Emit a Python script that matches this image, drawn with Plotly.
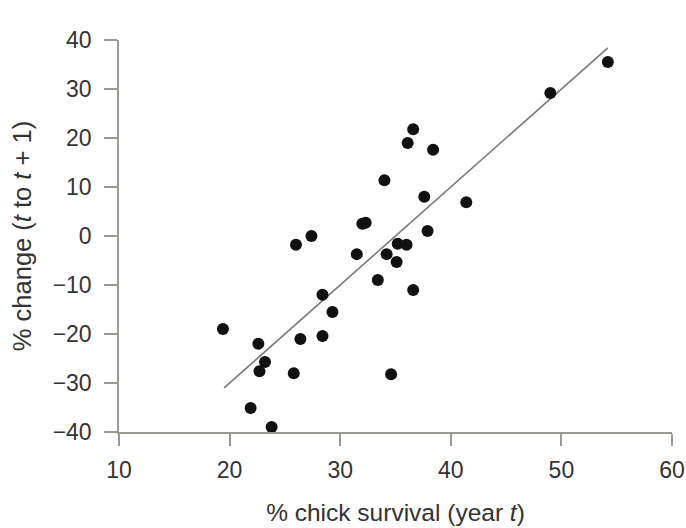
import plotly.graph_objects as go

# % chick survival (year t)
survival = [19.4, 22.6, 23.2, 22.7, 21.9, 23.8, 26.4, 25.8, 28.4, 29.3,
            28.4, 26.0, 27.4, 31.5, 32.0, 32.3, 33.4, 34.2, 35.1, 35.2,
            36.0, 36.6, 34.6, 34.0, 36.6, 36.1, 38.4, 37.6, 37.9, 41.4,
            49.0, 54.2]
# % change (t to t + 1)
change = [-19.0, -22.0, -25.7, -27.6, -35.1, -39.0, -21.0, -28.0, -20.4, -15.5,
          -12.0, -1.8, 0.0, -3.7, 2.5, 2.7, -9.0, -3.7, -5.3, -1.6,
          -1.8, -11.0, -28.2, 11.4, 21.8, 19.0, 17.6, 8.0, 1.0, 6.9,
          29.2, 35.5]

# fitted regression line end points
fit_x = [19.5, 54.2]
fit_y = [-31.0, 38.4]

x_ticks = [10, 20, 30, 40, 50, 60]
y_ticks = [-40, -30, -20, -10, 0, 10, 20, 30, 40]

FONT = "Liberation Sans, Arial, sans-serif"
AXIS_COL = "#9a9a92"
TEXT_COL = "#333333"

fig = go.Figure()
fig.add_trace(go.Scatter(x=fit_x, y=fit_y, mode="lines",
                         line=dict(color="#7a7a7a", width=1.6),
                         hoverinfo="skip", cliponaxis=False))
fig.add_trace(go.Scatter(x=survival, y=change, mode="markers",
                         marker=dict(color="#111111", size=12, line=dict(width=0)),
                         cliponaxis=False))

fig.update_layout(
    width=686, height=528,
    margin=dict(l=119, r=14, t=40, b=96),
    paper_bgcolor="white", plot_bgcolor="white",
    showlegend=False,
    font=dict(family=FONT, size=22, color=TEXT_COL),
    xaxis=dict(range=[10, 60], tickvals=x_ticks, showgrid=False, zeroline=False,
               automargin=False,
               showline=True, linecolor=AXIS_COL, linewidth=1.5,
               ticks="outside", ticklen=12, tickwidth=1.5, tickcolor=AXIS_COL,
               ticklabelstandoff=5,
               tickfont=dict(size=23, color=TEXT_COL),
               title=dict(text="% chick survival (year <i>t</i>)",
                          font=dict(size=24.5, color=TEXT_COL), standoff=22)),
    yaxis=dict(range=[-40, 40], tickvals=y_ticks, showgrid=False, zeroline=False,
               automargin=False,
               showline=True, linecolor=AXIS_COL, linewidth=1.5,
               ticks="outside", ticklen=13, tickwidth=1.5, tickcolor=AXIS_COL,
               ticklabelstandoff=8,
               tickfont=dict(size=23, color=TEXT_COL),
               title=dict(text="% change (<i>t</i> to <i>t</i> + 1)",
                          font=dict(size=25.5, color=TEXT_COL), standoff=14)),
)

fig.write_html("out.html")
